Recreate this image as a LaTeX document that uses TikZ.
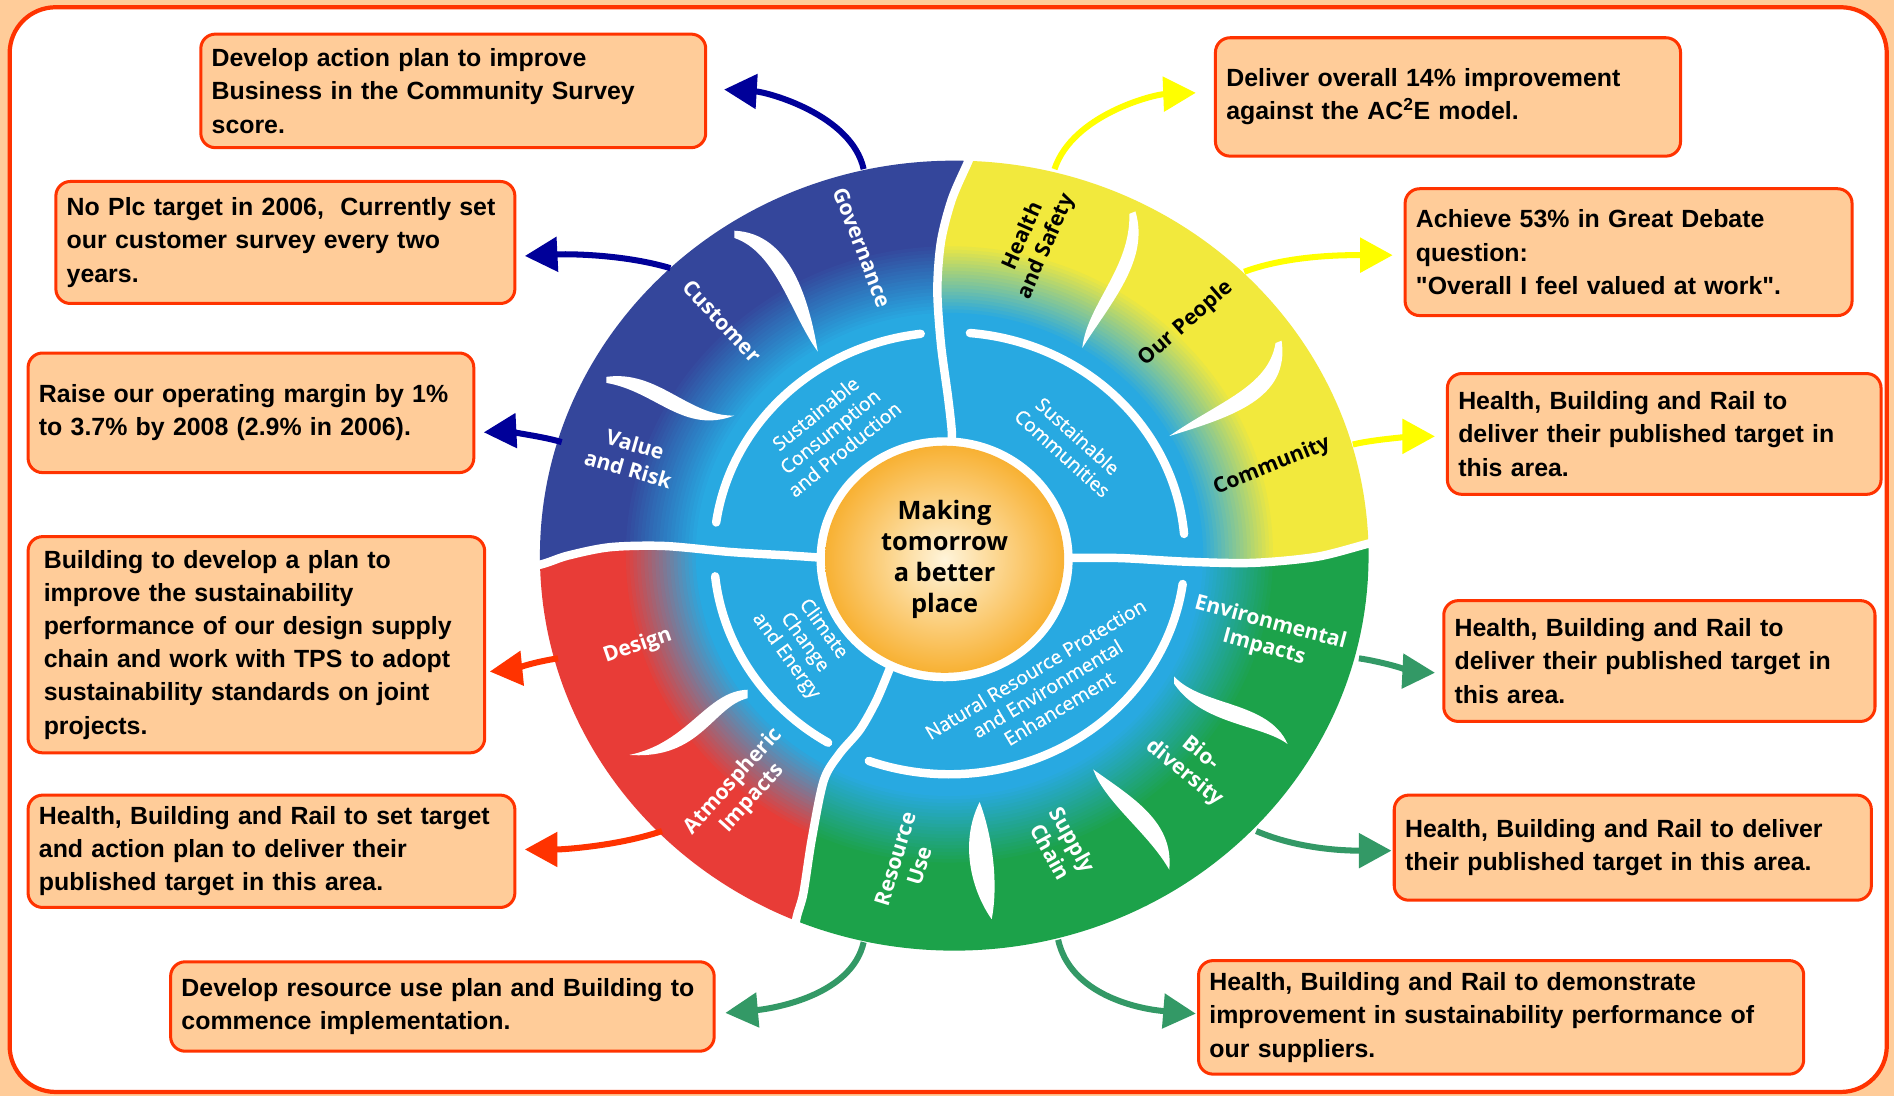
\documentclass[tikz,border=0pt]{standalone}
\usepackage{fontspec}
\setmainfont{Liberation Sans}
\newfontfamily\wheelfont{Open Sans}
\newfontfamily\innerfont{Open Sans}[FakeBold=0.6]
\usetikzlibrary{arrows.meta,calc}
\definecolor{peach}{HTML}{FFCC99}
\definecolor{bord}{HTML}{FF3300}
\definecolor{qblue}{HTML}{34469B}
\definecolor{qyel}{HTML}{F2E93D}
\definecolor{qgreen}{HTML}{1CA24A}
\definecolor{qred}{HTML}{E83C37}
\definecolor{lb}{HTML}{28A9E1}
\definecolor{corange}{HTML}{F8B133}
\definecolor{ccream}{HTML}{FFF4DA}
\definecolor{abl}{HTML}{000099}
\definecolor{ayl}{HTML}{FFFF00}
\definecolor{agr}{HTML}{339966}
\definecolor{ard}{HTML}{FF3300}
\newcommand\gradfill[1]{%
  \fill[#1] (790,460) ellipse [x radius=343pt, y radius=327pt];%
  \foreach \k in {0,...,20}{%
    \pgfmathsetmacro\rr{258-2.9*\k}%
    \pgfmathsetmacro\rx{1.05*\rr}%
    \pgfmathtruncatemacro\pp{100-5*\k}%
    \fill[#1!\pp!lb] (786,459) ellipse [x radius=\rx pt, y radius=\rr pt];%
  }%
}
\begin{document}
\begin{tikzpicture}[x=1pt,y=-1pt,
  tbox/.style={draw=bord, fill=peach, line width=2.5pt, rounded corners=12pt, align=left, anchor=north west, inner xsep=9pt, inner ysep=0pt, font=\fontsize{20.6}{27.5}\selectfont\bfseries},
  conn/.style={line width=5pt, -{Triangle[length=27pt,width=28pt]}},
  wlab/.style={text=white, align=center, font=\wheelfont\fontsize{17.5}{21}\selectfont\bfseries, inner sep=0pt},
  blab/.style={wlab, text=black},
  ilab/.style={text=white, align=center, font=\innerfont\fontsize{16}{19}\selectfont, inner sep=0pt},
  wline/.style={white, line width=7pt, line cap=round},
  leaf/.style={fill=white}]

\useasboundingbox (0,0) rectangle (1568,907);
\fill[peach] (0,0) rectangle (1568,907);
\draw[bord, fill=white, line width=3.5pt, rounded corners=38pt] (8,6) rectangle (1562,904);

% ---------- wheel quadrants ----------
\begin{scope}
\clip plot[smooth] coordinates {(684,462) (655,460) (605,457) (550,452) (505,453) (470,460) (449,467) (415,475)} -- (395,475) -- (395,90) -- (812,90) -- plot[smooth] coordinates {(812,110) (801,135) (788,165) (779,200) (776,240) (779,285) (785,330) (788,358) (787,370)} -- cycle;
\gradfill{qblue}
\end{scope}
\begin{scope}
\clip plot[smooth] coordinates {(787,370) (788,358) (785,330) (779,285) (776,240) (779,200) (788,165) (801,135) (812,110)} -- (812,90) -- (1180,90) -- (1180,442) -- plot[smooth] coordinates {(1165,442) (1133,450) (1090,461) (1037,466) (982,465) (927,462) (880,462)} -- cycle;
\gradfill{qyel}
\end{scope}
\begin{scope}
\clip plot[smooth] coordinates {(880,462) (927,462) (982,465) (1037,466) (1090,461) (1133,450) (1165,442)} -- (1180,442) -- (1180,830) -- (654,830) -- plot[smooth] coordinates {(654,800) (659,762) (665,740) (672,695) (682,646) (695,624) (712,604) (726,579) (738,550)} -- cycle;
\gradfill{qgreen}
\end{scope}
\begin{scope}
\clip plot[smooth] coordinates {(738,550) (726,579) (712,604) (695,624) (682,646) (672,695) (665,740) (659,762) (654,800)} -- (654,830) -- (395,830) -- (395,475) -- plot[smooth] coordinates {(415,475) (449,467) (470,460) (505,453) (550,452) (605,457) (655,460) (684,462)} -- cycle;
\gradfill{qred}
\end{scope}

% ---------- white boundaries ----------
\draw[wline] plot[smooth] coordinates {(684,462) (655,460) (605,457) (550,452) (505,453) (470,460) (449,467) (415,475)};
\draw[wline] plot[smooth] coordinates {(787,370) (788,358) (785,330) (779,285) (776,240) (779,200) (788,165) (801,135) (812,110)};
\draw[wline] plot[smooth] coordinates {(880,462) (927,462) (982,465) (1037,466) (1090,461) (1133,450) (1165,442)};
\draw[wline] plot[smooth] coordinates {(738,550) (726,579) (712,604) (695,624) (682,646) (672,695) (665,740) (659,762) (654,800)};

% inner ring arcs
\draw[wline] ($(786,458)+(172:195pt and 183pt)$) arc[start angle=172, end angle=97, x radius=195pt, y radius=183pt];
\draw[wline] ($(786,458)+(85:195pt and 183pt)$) arc[start angle=85, end angle=5, x radius=195pt, y radius=183pt];
\draw[wline] ($(786,458)+(-8:195pt and 183pt)$) arc[start angle=-8, end angle=-110, x radius=195pt, y radius=183pt];
\draw[wline] ($(786,458)+(186:195pt and 183pt)$) arc[start angle=186, end angle=239, x radius=195pt, y radius=183pt];

% leaves
\fill[leaf] (608,191) .. controls (655,193) and (670,250) .. (677,291) .. controls (655,261) and (643,209) .. (608,197) -- cycle;
\fill[leaf] (502,312) .. controls (545,306) and (570,345) .. (608,344) .. controls (566,360) and (543,324) .. (502,317) -- cycle;
\fill[leaf] (940,175) .. controls (952,215) and (920,250) .. (896,288) .. controls (900,252) and (936,222) .. (935,177) -- cycle;
\fill[leaf] (1061,282) .. controls (1068,330) and (1020,345) .. (968,361) .. controls (1010,332) and (1050,320) .. (1056,284) -- cycle;
\fill[leaf] (972,560) .. controls (995,585) and (1050,580) .. (1066,616) .. controls (1045,600) and (995,600) .. (972,566) -- cycle;
\fill[leaf] (905,637) .. controls (937,660) and (972,680) .. (968,720) .. controls (952,692) and (922,670) .. (908,644) -- cycle;
\fill[leaf] (811,664) .. controls (793,700) and (806,740) .. (821,761) .. controls (827,730) and (821,690) .. (811,664) -- cycle;
\fill[leaf] (619,571) .. controls (585,572) and (570,615) .. (521,625) .. controls (580,629) and (590,585) .. (619,578) -- cycle;

% centre
\fill[white] (782,463) ellipse [x radius=106pt, y radius=101pt];
\shade[inner color=ccream, outer color=corange] (782,463) ellipse [x radius=99pt, y radius=94pt];
\node[font=\wheelfont\fontsize{21}{25.5}\selectfont\bfseries, align=center, inner sep=0pt] (ctr) at (782,463) {Making\\tomorrow\\a better\\place};

% ---------- wheel labels ----------
\node[wlab, rotate=-69] (lGov) at (714,205) {Governance};
\node[wlab, rotate=-47] (lCust) at (598,266) {Customer};
\node[wlab, rotate=-16] (lVal) at (523,378) {Value\\and Risk};
\node[blab, rotate=66] (lHS) at (857,200) {Health\\and Safety};
\node[blab, rotate=41] (lPpl) at (982,268) {Our People};
\node[blab, rotate=22] (lCom) at (1053,386) {Community};
\node[wlab, rotate=-15] (lEnv) at (1049,526) {Environmental\\Impacts};
\node[wlab, rotate=-39] (lBio) at (987,632) {Bio-\\diversity};
\node[wlab, rotate=-61] (lSup) at (879,700) {Supply\\Chain};
\node[wlab, rotate=73] (lRes) at (751,714) {Resource\\Use};
\node[wlab, rotate=19] (lDes) at (528,535) {Design};
\node[wlab, rotate=48] (lAtm) at (615,654) {Atmospheric\\Impacts};
\node[ilab, rotate=39] (iSCP) at (687,357) {Sustainable\\Consumption\\and Production};
\node[ilab, rotate=-42] (iSC) at (886,368) {Sustainable\\Communities};
\node[ilab, rotate=-54] (iCCE) at (666,532) {Climate\\Change\\and Energy};
\node[ilab, rotate=31] (iNRP) at (867,570) {Natural Resource Protection\\and Environmental\\Enhancement};

% ---------- boxes ----------
\node[tbox, minimum width=418pt, minimum height=94pt, text width=400pt] (b1) at (165,27) {\mbox{Develop action plan to improve}\\\mbox{Business in the Community Survey}\\\mbox{score.}};
\node[tbox, minimum width=380pt, minimum height=101pt, text width=362pt] (b2) at (45,149) {\mbox{No Plc target in 2006,~ Currently set}\\\mbox{our customer survey every two}\\\mbox{years.}};
\node[tbox, minimum width=369pt, minimum height=99pt, text width=351pt] (b3) at (22,291) {\mbox{Raise our operating margin by 1\%}\\\mbox{to 3.7\% by 2008 (2.9\% in 2006).}};
\node[tbox, minimum width=378pt, minimum height=179pt, text width=352pt, inner xsep=13pt] (b4) at (22,443) {\mbox{Building to develop a plan to}\\\mbox{improve the sustainability}\\\mbox{performance of our design supply}\\\mbox{chain and work with TPS to adopt}\\\mbox{sustainability standards on joint}\\\mbox{projects.}};
\node[tbox, minimum width=403pt, minimum height=93pt, text width=385pt] (b5) at (22,657) {\mbox{Health, Building and Rail to set target}\\\mbox{and action plan to deliver their}\\\mbox{published target in this area.}};
\node[tbox, minimum width=450pt, minimum height=74pt, text width=432pt] (b6) at (140,795) {\mbox{Develop resource use plan and Building to}\\\mbox{commence implementation.}};
\node[tbox, minimum width=385pt, minimum height=98pt, text width=367pt] (b7) at (1005,30) {\mbox{Deliver overall 14\% improvement}\\\mbox{against the AC\textsuperscript{2}E model.}};
\node[tbox, minimum width=370pt, minimum height=105pt, text width=352pt] (b8) at (1162,155) {\mbox{Achieve 53\% in Great Debate}\\\mbox{question:}\\\mbox{\textquotedbl Overall I feel valued at work\textquotedbl.}};
\node[tbox, minimum width=359pt, minimum height=100pt, text width=341pt] (b9) at (1197,308) {\mbox{Health, Building and Rail to}\\\mbox{deliver their published target in}\\\mbox{this area.}};
\node[tbox, minimum width=357pt, minimum height=100pt, text width=339pt] (b10) at (1194,496) {\mbox{Health, Building and Rail to}\\\mbox{deliver their published target in}\\\mbox{this area.}};
\node[tbox, minimum width=395pt, minimum height=87pt, text width=377pt] (b11) at (1153,657) {\mbox{Health, Building and Rail to deliver}\\\mbox{their published target in this area.}};
\node[tbox, minimum width=501pt, minimum height=94pt, text width=483pt] (b12) at (991,794) {\mbox{Health, Building and Rail to demonstrate}\\\mbox{improvement in sustainability performance of}\\\mbox{our suppliers.}};

% ---------- connectors ----------
\coordinate (aGov) at (715,140);
\coordinate (aCust) at (555,222);
\coordinate (aVal) at (465,366);
\coordinate (aHS) at (873,140);
\coordinate (aPpl) at (1030,225);
\coordinate (aCom) at (1120,368);
\coordinate (aEnv) at (1125,545);
\coordinate (aBio) at (1040,688);
\coordinate (aSup) at (876,778);
\coordinate (aRes) at (715,780);
\coordinate (aDes) at (462,545);
\coordinate (aAtm) at (548,688);

\draw[conn, abl, shorten >=14pt] (aGov) .. controls +(-10,-45) and +(50,3) .. ([yshift=2pt]b1.east);
\draw[conn, abl, shorten >=7pt] (aCust) .. controls +(-40,-12) and +(40,-2) .. ([yshift=-11.5pt]b2.east);
\draw[conn, abl, shorten >=7pt] (aVal) .. controls +(-20,-6) and +(20,-1) .. ([yshift=-16.5pt]b3.east);
\draw[conn, ayl, shorten >=15pt] (aHS) .. controls +(15,-45) and +(-50,2) .. ([yshift=4pt]b7.west);
\draw[conn, ayl, shorten >=9pt] (aPpl) .. controls +(40,-15) and +(-40,0) .. ([yshift=-2.5pt]b8.west);
\draw[conn, ayl, shorten >=9pt] (aCom) .. controls +(20,-5) and +(-20,0) .. ([yshift=-2pt]b9.west);
\draw[conn, agr, shorten >=6pt] (aEnv) .. controls +(20,3) and +(-20,-1) .. ([yshift=-10pt]b10.west);
\draw[conn, agr, shorten >=1pt] (aBio) .. controls +(35,15) and +(-40,0) .. ([yshift=-2.5pt]b11.west);
\draw[conn, agr, shorten >=1pt] (aSup) .. controls +(10,45) and +(-50,-4) .. ([yshift=3pt]b12.west);
\draw[conn, agr, shorten >=8pt] (aRes) .. controls +(-10,45) and +(45,-4) .. ([yshift=-6pt]b6.east);
\draw[conn, ard, shorten >=3pt] (aDes) .. controls +(-20,3) and +(20,-2) .. ([yshift=-22.5pt]b4.east);
\draw[conn, ard, shorten >=7pt] (aAtm) .. controls +(-35,12) and +(40,0) .. ([yshift=1.5pt]b5.east);
\end{tikzpicture}
\end{document}
